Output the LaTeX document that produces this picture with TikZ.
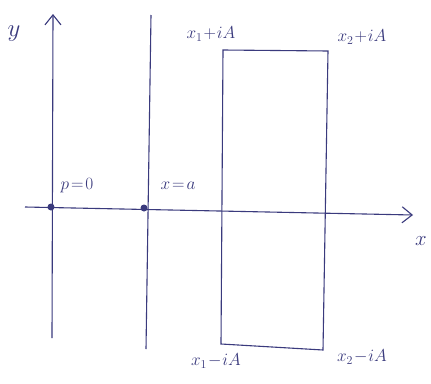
\documentclass[tikz,border=0pt]{standalone}
\usetikzlibrary{arrows.meta}
\definecolor{ink}{RGB}{58,58,125}
\begin{document}
\begin{tikzpicture}[x=1pt,y=-1pt,
  line/.style={draw=ink,line width=1.1pt},
  arr/.style={line,-{Straight Barb[length=10pt,width=16pt,line width=1.1pt]}},
  lbl/.style={text=ink,font=\fontsize{18}{21}\selectfont,inner sep=0pt},
  pt/.style={circle,fill=ink,inner sep=0pt,minimum size=7pt}]
\path[fill=white] (0,0) rectangle (431,383);
% axes
\coordinate (ybot) at (52,338);
\coordinate (ytop) at (53,14);
\coordinate (xl) at (25,207);
\coordinate (xr) at (413,215);
\draw[arr] (ybot) -- (ytop);
\draw[arr] (xl) -- (xr);
% x = a line
\coordinate (atop) at (151,15);
\coordinate (abot) at (146,349);
\draw[line] (abot) -- (atop);
% dots
\node[pt] (p0) at (51,207) {};
\node[pt] (pa) at (144,208) {};
% rectangle
\coordinate (r1) at (223,50);
\coordinate (r2) at (328,51);
\coordinate (r3) at (323,350);
\coordinate (r4) at (221,344);
\draw[line] (r1) -- (r2) -- (r3) -- (r4) -- cycle;
% labels
\node[lbl,font=\fontsize{24}{26}\selectfont] (ly) at (14,34) {$y$};
\node[lbl,font=\fontsize{22}{26}\selectfont] (lx) at (421,241) {$x$};
\node[lbl] (lp) at (77,186) {$p\!=\!0$};
\node[lbl] (la) at (178,186) {$x\!=\!a$};
\node[lbl] (l1) at (211,34) {$x_1\!+\!iA$};
\node[lbl] (l2) at (362,37) {$x_2\!+\!iA$};
\node[lbl] (l3) at (216,361) {$x_1\!-\!iA$};
\node[lbl] (l4) at (362,357) {$x_2\!-\!iA$};
\end{tikzpicture}
\end{document}
